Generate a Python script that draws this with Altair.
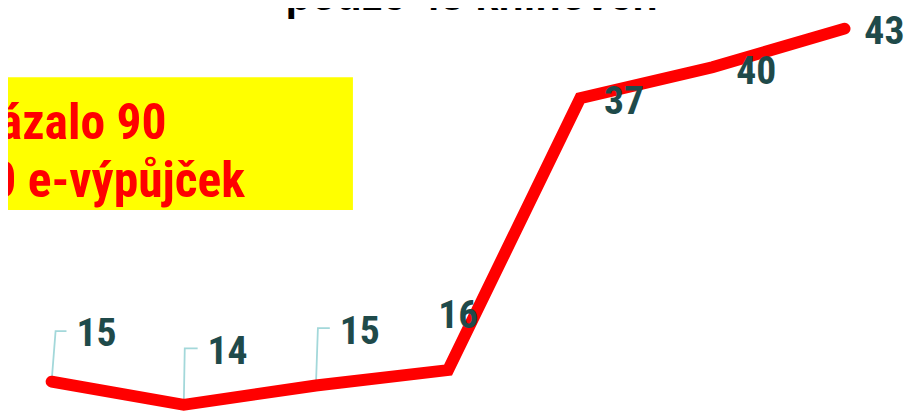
import altair as alt
import pandas as pd

# ---- data ----
periods = [1, 2, 3, 4, 5, 6, 7]
values = [15.6, 13.8, 15.3, 16.5, 37.6, 40.0, 43.0]
labels = ["15", "14", "15", "16", "37", "40", "43"]
box_lines = ["ukázalo 90", "0 e-výpůjček"]
title_text = "pouze 43 knihoven"

# ---- layout ----
W, H = 906, 403
X_DOM = [-0.33, 6.465]
Y_DOM = [13.46, 44.46]
PX = (X_DOM[1] - X_DOM[0]) / W
PY = (Y_DOM[1] - Y_DOM[0]) / H

label_off = [(25, -36), (24, -41), (24, -42), (-10, -42), (24, 16), (24, 17), (20, 16)]
leader_off = {
    0: [(0, 0), (4, -51), (15, -51)],
    1: [(0, 0), (1, -57), (14, -57)],
    2: [(0, 0), (2, -58), (14, -58)],
    3: [(0, 0), (10, -30)],
}

idx = [p - 1 for p in periods]
df = pd.DataFrame({"i": idx, "v": values, "label": labels})
df["lx"] = [i + dx * PX for i, (dx, dy) in zip(idx, label_off)]
df["ly"] = [v - dy * PY for v, (dx, dy) in zip(values, label_off)]

rows = []
for k, pts in leader_off.items():
    for order, (dx, dy) in enumerate(pts):
        rows.append({"g": k, "o": order,
                     "x": idx[k] + dx * PX, "y": values[k] - dy * PY})
leaders = pd.DataFrame(rows)

xs = alt.Scale(domain=X_DOM, nice=False, zero=False)
ys = alt.Scale(domain=Y_DOM, nice=False, zero=False)

one = pd.DataFrame({"a": [0]})

box = alt.Chart(one).mark_rect(color="#FFFF00").encode(
    x=alt.value(0), x2=alt.value(348), y=alt.value(68), y2=alt.value(202))

box_df = pd.DataFrame({"t": box_lines, "xp": [160, 239], "yp": [130, 189]})
box_text = alt.Chart(box_df).mark_text(
    align="right", baseline="alphabetic", fontSize=50, fontWeight="bold",
    font="Liberation Sans Narrow, Arial Narrow, Roboto Condensed, sans-serif",
    color="#FF0000").encode(
    x=alt.X("xp:Q", scale=None), y=alt.Y("yp:Q", scale=None), text="t:N")

title = alt.Chart(pd.DataFrame({"t": [title_text]})).mark_text(
    align="left", baseline="alphabetic", fontSize=42, fontWeight="bold",
    font="Liberation Sans, Arial, sans-serif", color="#000000").encode(
    x=alt.value(280), y=alt.value(0), text="t:N")

lead = alt.Chart(leaders).mark_line(color="#A3D8DA", strokeWidth=1.8).encode(
    x=alt.X("x:Q", scale=xs, axis=None),
    y=alt.Y("y:Q", scale=ys, axis=None),
    detail="g:N", order="o:Q")

line = alt.Chart(df).mark_line(
    color="#FF0000", strokeWidth=12, strokeCap="round", strokeJoin="miter").encode(
    x=alt.X("i:Q", scale=xs, axis=None),
    y=alt.Y("v:Q", scale=ys, axis=None))

text = alt.Chart(df).mark_text(
    align="left", baseline="alphabetic", fontSize=40, fontWeight="bold",
    font="Liberation Sans Narrow, Arial Narrow, Roboto Condensed, sans-serif",
    color="#1F4A4A").encode(
    x=alt.X("lx:Q", scale=xs, axis=None),
    y=alt.Y("ly:Q", scale=ys, axis=None),
    text="label:N")

chart = alt.layer(box, box_text, title, lead, line, text).properties(
    width=W, height=H, padding=0, autosize=alt.AutoSizeParams(type="none"),
    background="#FFFFFF"
).configure_view(stroke=None)

chart.save("out.html", embed_options={"renderer": "svg", "actions": False})
